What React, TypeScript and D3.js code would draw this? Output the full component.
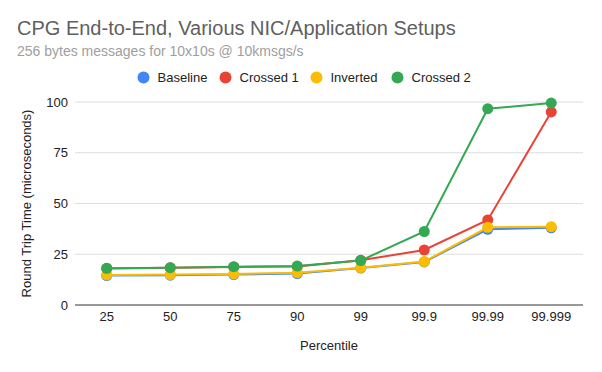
import React, { useEffect, useRef } from "react";
import * as d3 from "d3";

const percentiles = ["25", "50", "75", "90", "99", "99.9", "99.99", "99.999"];
const baseline = [14.5, 14.7, 15.0, 15.5, 18.2, 21.2, 37.3, 38.0];
const crossed1 = [18.0, 18.3, 18.7, 19.0, 22.0, 27.1, 41.9, 95.1];
const inverted = [14.8, 15.0, 15.3, 15.9, 18.4, 21.4, 38.3, 38.6];
const crossed2 = [18.1, 18.4, 18.9, 19.2, 21.9, 36.2, 96.7, 99.5];
const seriesNames = ["Baseline", "Crossed 1", "Inverted", "Crossed 2"];
const yTicks = [0, 25, 50, 75, 100];

const colors = ["#4285f4", "#ea4335", "#fbbc04", "#34a853"];
const font = "'Liberation Sans', Arial, sans-serif";

export default function App() {
  const ref = useRef<SVGSVGElement>(null);

  useEffect(() => {
    const svg = d3.select(ref.current);
    svg.selectAll("*").remove();

    const width = 602;
    const height = 372;
    const margin = { top: 102, right: 19, bottom: 67, left: 75 };
    const innerH = height - margin.top - margin.bottom;

    svg.append("rect").attr("width", width).attr("height", height).attr("fill", "#fff");

    // Title and subtitle
    svg.append("text")
      .attr("x", 17).attr("y", 35)
      .style("font-family", font).style("font-size", "20px")
      .attr("fill", "#5f5f5f")
      .text("CPG End-to-End, Various NIC/Application Setups");
    svg.append("text")
      .attr("x", 17).attr("y", 56)
      .style("font-family", font).style("font-size", "14px")
      .attr("fill", "#9e9e9e")
      .text("256 bytes messages for 10x10s @ 10kmsgs/s");

    const x = d3.scaleBand()
      .domain(percentiles)
      .range([margin.left, width - margin.right]);

    const y = d3.scaleLinear()
      .domain([0, 100])
      .range([margin.top + innerH, margin.top]);

    // Gridlines
    svg.append("g")
      .selectAll("line")
      .data(yTicks.filter(d => d !== 0))
      .enter()
      .append("line")
      .attr("x1", margin.left).attr("x2", width - margin.right)
      .attr("y1", d => y(d)).attr("y2", d => y(d))
      .attr("stroke", "#dddddd").attr("stroke-width", 1);

    // Y tick labels
    svg.append("g")
      .selectAll("text")
      .data(yTicks)
      .enter()
      .append("text")
      .attr("x", margin.left - 7)
      .attr("y", d => y(d) + 4.5)
      .attr("text-anchor", "end")
      .style("font-family", font).style("font-size", "13px")
      .attr("fill", "#222")
      .text(d => d);

    // Baseline axis
    svg.append("line")
      .attr("x1", margin.left).attr("x2", width - margin.right)
      .attr("y1", y(0)).attr("y2", y(0))
      .attr("stroke", "#333").attr("stroke-width", 1);

    // X tick labels
    svg.append("g")
      .selectAll("text")
      .data(percentiles)
      .enter()
      .append("text")
      .attr("x", d => x(d)! + x.bandwidth() / 2)
      .attr("y", y(0) + 16)
      .attr("text-anchor", "middle")
      .style("font-family", font).style("font-size", "13px")
      .attr("fill", "#222")
      .text(d => d);

    // Axis titles
    svg.append("text")
      .attr("x", (margin.left + width - margin.right) / 2)
      .attr("y", 350)
      .attr("text-anchor", "middle")
      .style("font-family", font).style("font-size", "13px")
      .attr("fill", "#222")
      .text("Percentile");
    svg.append("text")
      .attr("transform", `translate(31, ${margin.top + innerH / 2}) rotate(-90)`)
      .attr("text-anchor", "middle")
      .style("font-family", font).style("font-size", "13px")
      .attr("fill", "#222")
      .text("Round Trip Time (microseconds)");

    // Series
    const allSeries = [baseline, crossed1, inverted, crossed2];
    const line = d3.line<number>()
      .x((_, i) => x(percentiles[i])! + x.bandwidth() / 2)
      .y(d => y(d));

    allSeries.forEach((values, s) => {
      const g = svg.append("g");
      g.append("path")
        .datum(values)
        .attr("d", line)
        .attr("fill", "none")
        .attr("stroke", colors[s])
        .attr("stroke-width", 2);
      g.selectAll("circle")
        .data(values)
        .enter()
        .append("circle")
        .attr("cx", (_, i) => x(percentiles[i])! + x.bandwidth() / 2)
        .attr("cy", d => y(d))
        .attr("r", 5.5)
        .attr("fill", colors[s]);
    });

    // Legend
    const legendX = [143.5, 225.5, 316.5, 397.5];
    const legend = svg.append("g");
    seriesNames.forEach((name, i) => {
      legend.append("circle")
        .attr("cx", legendX[i]).attr("cy", 77.5)
        .attr("r", 6)
        .attr("fill", colors[i]);
      legend.append("text")
        .attr("x", legendX[i] + 14).attr("y", 82)
        .style("font-family", font).style("font-size", "13px")
        .attr("fill", "#222")
        .text(name);
    });
  }, []);

  return (
    <div style={{ margin: -8 }}>
      <svg ref={ref} width={602} height={372} style={{ display: "block" }} />
    </div>
  );
}
